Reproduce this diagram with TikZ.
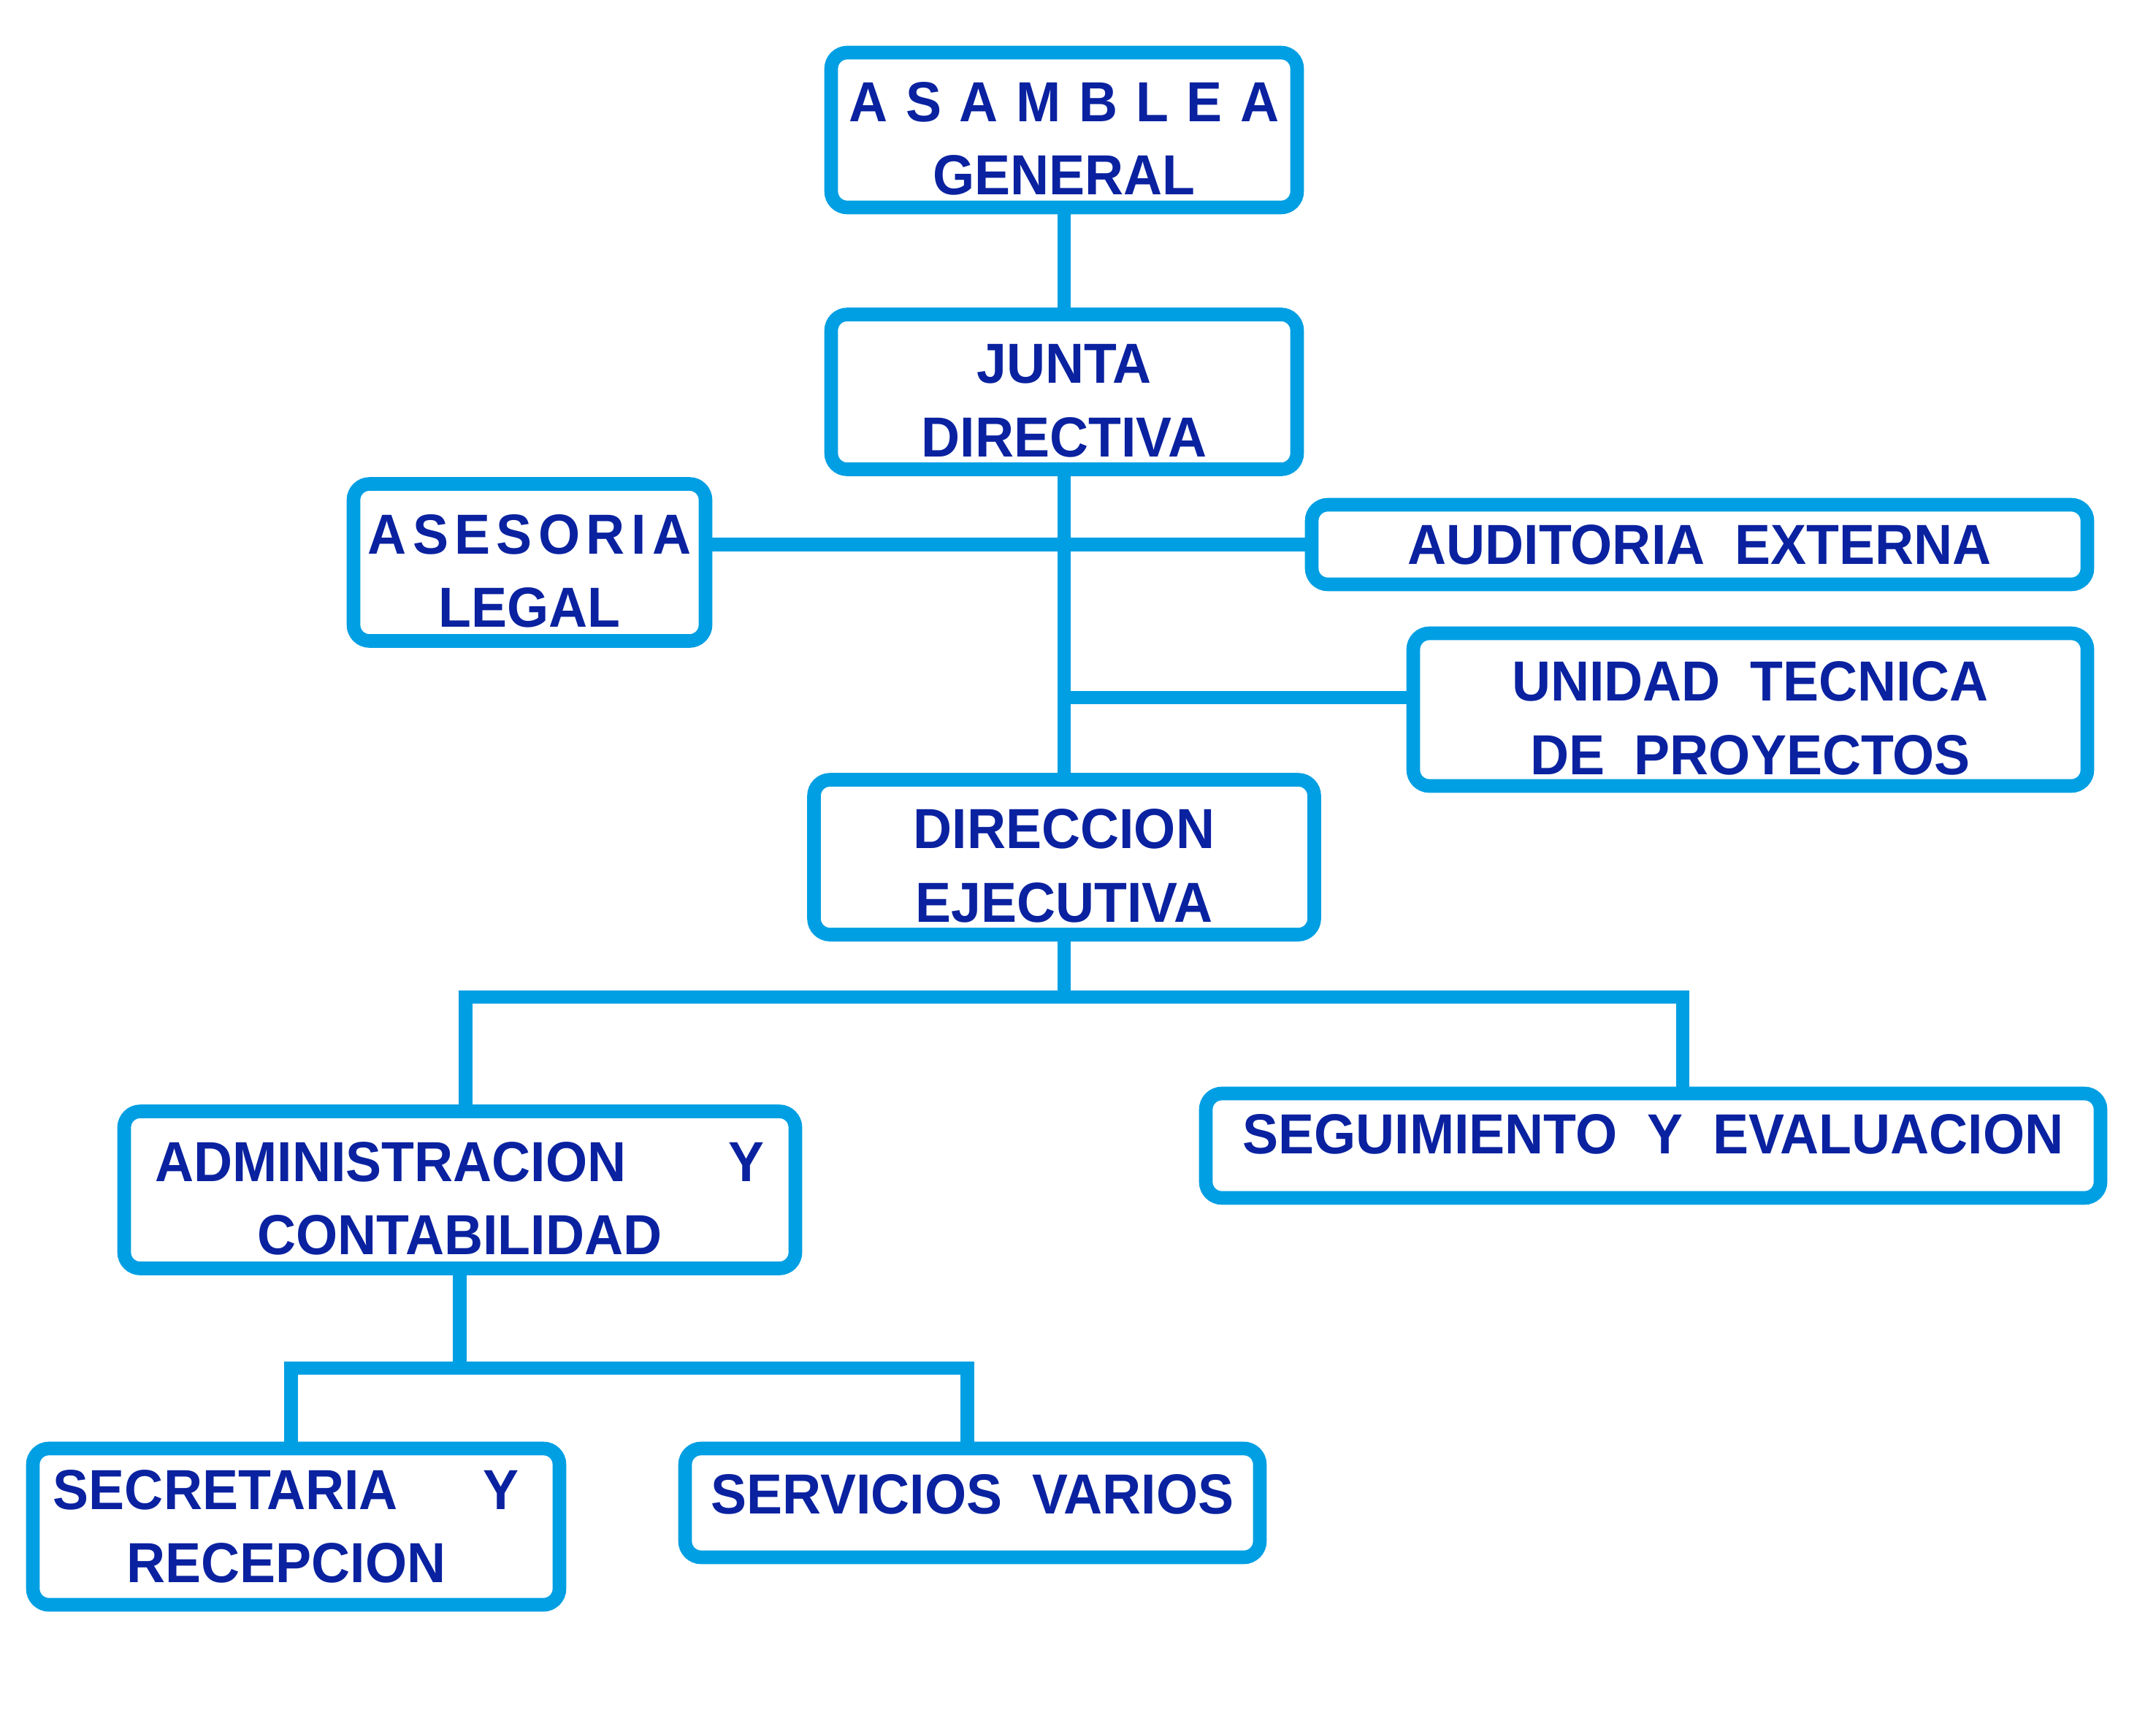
\documentclass[tikz,border=0pt]{standalone}
\usepackage{fontspec}
\newfontfamily\chartfont[FakeStretch=0.95]{Liberation Sans}
\usetikzlibrary{positioning}
\definecolor{lineblue}{RGB}{0,159,227}
\definecolor{textblue}{RGB}{10,34,160}

\begin{document}
\begin{tikzpicture}[node distance=2cm,on grid,
	box/.style={draw=lineblue,line width=5.3pt,rounded corners=0.22cm,align=center,
		text=textblue,font=\chartfont\bfseries\fontsize{22}{28.5}\selectfont,inner sep=0pt},
	twoline/.style={text height=1.78cm},
	link/.style={draw=lineblue,line width=5.3pt}]
	   \useasboundingbox (0,0) rectangle (29.52,-23.52);
	   \node[box,twoline,minimum width=6.38cm,minimum height=2.12cm] (asamblea) at (14.57,-1.78)
	        {A\kern7pt S\kern7pt A\kern7pt M\kern7pt B\kern7pt L\kern7pt E\kern7pt A\\GENERAL};
	   \node[box,twoline,minimum width=6.38cm,minimum height=2.12cm] (junta) [below=3.585cm of asamblea] {JUNTA\\DIRECTIVA};
	   \node[box,twoline,minimum width=6.85cm,minimum height=2.12cm] (direccion) [below=6.37cm of junta] {DIRECCION\\EJECUTIVA};
	   \node[box,twoline,minimum width=4.82cm,minimum height=2.15cm] (asesoria) at (7.25,-7.70)
	        {A\kern2.4pt S\kern2.4pt E\kern2.4pt S\kern2.4pt O\kern2.4pt R\kern2.4pt I\kern2.4pt A\\LEGAL};
	   \node[box,minimum width=10.62cm,minimum height=1.09cm] (auditoria) at (23.27,-7.455) {AUDITORIA\ \ EXTERNA};
	   \node[box,twoline,minimum width=9.23cm,minimum height=2.09cm] (unidad) at (23.965,-9.715) {UNIDAD\ \ TECNICA\\DE\ \ PROYECTOS};
	   \node[box,twoline,minimum width=9.19cm,minimum height=2.15cm] (admin) at (6.295,-16.29) {ADMINISTRACION\hspace{1.4cm}Y\\CONTABILIDAD};
	   \node[box,minimum width=12.25cm,minimum height=1.43cm,text depth=0.33cm] (seguimiento) at (22.635,-15.685)
	        {SEGUIMIENTO\ \ Y\ \ EVALUACION};
	   \node[box,minimum width=7.21cm,minimum height=2.14cm] (secretaria) at (4.055,-20.90)
	        {SECRETARIA\hspace{1.17cm}Y\kern0.27cm\\RECEPCION\kern0.27cm};
	   \node[box,minimum width=7.87cm,minimum height=1.49cm,text depth=0.25cm] (servicios) at (13.315,-20.575) {SERVICIOS\ \ VARIOS};
	   \coordinate (split0) at (14.57,-9.55);
	   \coordinate (split1) at (14.57,-13.65);
	   \coordinate (split2) at (6.295,-18.73);
	    \path[link]
	    (asamblea) -- (junta)
	    (junta) -- (direccion)
	    (asesoria.east |- auditoria.west) -- (auditoria.west)
	    (split0) -- (split0 -| unidad.west)
	    (direccion) -- (split1)
	    ([xshift=0.08cm]admin.north) |- (split1) -| ([xshift=0.405cm]seguimiento.north)
	    (admin.south) -- (split2)
	    ([xshift=-0.07cm]secretaria.north) |- (split2) -| ([xshift=-0.07cm]servicios.north);
	\end{tikzpicture}
\end{document}
